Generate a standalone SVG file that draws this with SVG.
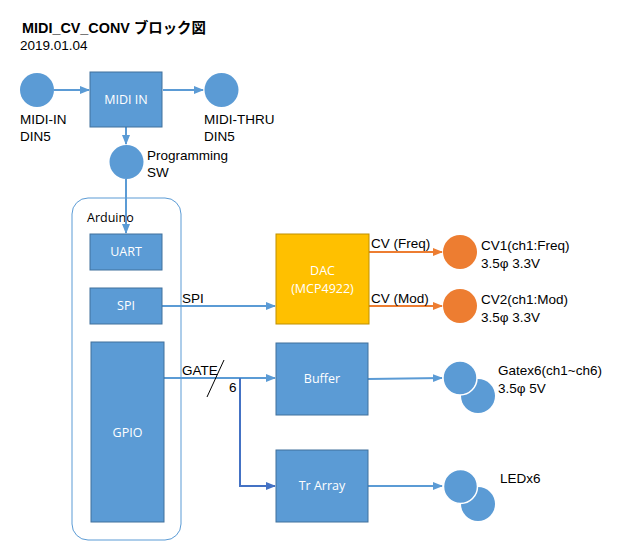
<svg xmlns="http://www.w3.org/2000/svg" width="623" height="559" viewBox="0 0 623 559">
<style>
.lbl{font-family:"Liberation Sans","Noto Sans CJK JP",sans-serif;font-size:13.5px;fill:#000}
.box{fill:#5b9bd5;stroke:#41719c;stroke-width:1}
.btxt{font-family:"Open Sans","Liberation Sans",sans-serif;font-size:12.5px;fill:#fff;text-anchor:middle}
.dot{fill:#5b9bd5}
.odot{fill:#ed7d31}
.ln{stroke:#5b9bd5;stroke-width:2;fill:none}
.oln{stroke:#ed7d31;stroke-width:2;fill:none}
.dln{stroke:#4472c4;stroke-width:2;fill:none}
</style>
<defs>
<marker id="ab" markerWidth="10" markerHeight="10" refX="9" refY="5" orient="auto" markerUnits="userSpaceOnUse"><path d="M0,1 L10,5 L0,9 Z" fill="#5b9bd5"/></marker>
<marker id="ao" markerWidth="10" markerHeight="10" refX="9" refY="5" orient="auto" markerUnits="userSpaceOnUse"><path d="M0,1 L10,5 L0,9 Z" fill="#ed7d31"/></marker>
<marker id="ad" markerWidth="10" markerHeight="10" refX="9" refY="5" orient="auto" markerUnits="userSpaceOnUse"><path d="M0,1 L10,5 L0,9 Z" fill="#4472c4"/></marker>
</defs>
<rect width="623" height="559" fill="#fff"/>
<text x="22" y="33" font-family="Liberation Sans,Noto Sans CJK JP,sans-serif" font-size="14.4" font-weight="bold">MIDI_CV_CONV ブロック図</text>
<text x="20" y="50" class="lbl" font-size="13.2">2019.01.04</text>

<g id="arduino"><rect x="72" y="198" width="109" height="342" rx="16" fill="none" stroke="#5b9bd5" stroke-width="1"/><text x="87" y="222" font-family="Open Sans,Liberation Sans,sans-serif" font-size="12.5" fill="#000">Arduino</text></g>

<g id="connectors">
<line class="ln" x1="54" y1="90" x2="89" y2="90" marker-end="url(#ab)"/>
<line class="ln" x1="163" y1="90" x2="203" y2="90" marker-end="url(#ab)"/>
<line class="ln" x1="126" y1="127" x2="126" y2="144" marker-end="url(#ab)"/>
<line class="ln" x1="126" y1="179" x2="126" y2="233" marker-end="url(#ab)"/>
<line class="ln" x1="162" y1="306" x2="275" y2="306" marker-end="url(#ab)"/>
<line class="ln" x1="164" y1="378" x2="275" y2="378" marker-end="url(#ab)"/>
<polyline class="dln" points="240,378 240,486 275,486" marker-end="url(#ad)"/>
<line x1="207" y1="397" x2="224" y2="360" stroke="#000" stroke-width="1"/>
<line class="oln" x1="369" y1="252" x2="442" y2="252" marker-end="url(#ao)"/>
<line class="oln" x1="369" y1="306" x2="442" y2="306" marker-end="url(#ao)"/>
<line class="ln" x1="368" y1="379" x2="442" y2="378" marker-end="url(#ab)"/>
<line class="ln" x1="368" y1="486" x2="442" y2="486" marker-end="url(#ab)"/>
<text x="182" y="303" class="lbl">SPI</text>
<text x="182" y="375" class="lbl">GATE</text>
<text x="229" y="392" class="lbl">6</text>
<text x="371" y="248" class="lbl">CV (Freq)</text>
<text x="371" y="303" class="lbl">CV (Mod)</text>
</g>

<g id="midi-in-jack"><circle class="dot" cx="37" cy="90" r="17"/><text x="20" y="124" class="lbl">MIDI-IN</text><text x="20" y="141" class="lbl">DIN5</text></g>
<g id="midi-in"><rect class="box" x="90" y="72" width="72" height="55"/><text x="126" y="104" class="btxt">MIDI IN</text></g>
<g id="midi-thru"><circle class="dot" cx="221.5" cy="90" r="17"/><text x="204" y="124" class="lbl">MIDI-THRU</text><text x="204" y="141" class="lbl">DIN5</text></g>
<g id="prog-sw"><circle class="dot" cx="126.5" cy="162" r="17"/><text x="147" y="160" class="lbl">Programming</text><text x="147" y="177" class="lbl">SW</text></g>
<g id="uart"><rect class="box" x="90" y="234" width="72" height="36"/><text x="126" y="256" class="btxt">UART</text></g>
<g id="spi"><rect class="box" x="90" y="288" width="72" height="36"/><text x="126" y="310" class="btxt">SPI</text></g>
<g id="gpio"><rect class="box" x="91" y="342" width="73" height="180"/><text x="127.5" y="437" class="btxt">GPIO</text></g>
<g id="dac"><rect x="276" y="234" width="93" height="90" fill="#ffc000" stroke="#bf9000" stroke-width="1"/><text x="322.5" y="275" class="btxt">DAC</text><text x="322.5" y="293" class="btxt">(MCP4922)</text></g>
<g id="buffer"><rect class="box" x="276" y="343" width="92" height="72"/><text x="322" y="383" class="btxt">Buffer</text></g>
<g id="tr-array"><rect class="box" x="276" y="450" width="92" height="72"/><text x="322" y="490" class="btxt">Tr Array</text></g>
<g id="cv1"><circle class="odot" cx="460" cy="252" r="17"/><text x="481" y="250" class="lbl">CV1(ch1:Freq)</text><text x="481" y="268" class="lbl">3.5φ 3.3V</text></g>
<g id="cv2"><circle class="odot" cx="460" cy="306" r="17"/><text x="481" y="304" class="lbl">CV2(ch1:Mod)</text><text x="481" y="322" class="lbl">3.5φ 3.3V</text></g>
<g id="gate-out"><circle class="dot" cx="478" cy="396" r="17"/><circle class="dot" cx="460" cy="378" r="17" stroke="#fff" stroke-width="1.5"/><text x="498" y="375" class="lbl">Gatex6(ch1~ch6)</text><text x="498" y="393" class="lbl">3.5φ 5V</text></g>
<g id="led-out"><circle class="dot" cx="478" cy="504" r="17"/><circle class="dot" cx="460.5" cy="486.5" r="17" stroke="#fff" stroke-width="1.5"/><text x="500" y="483" class="lbl">LEDx6</text></g>
</svg>
